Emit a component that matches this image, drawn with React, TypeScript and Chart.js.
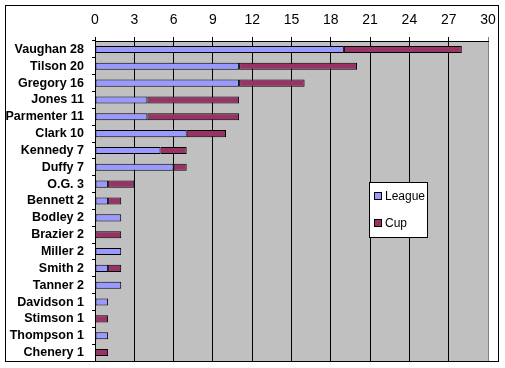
import React, { useEffect, useRef } from "react";
import { Chart, registerables } from "chart.js";

Chart.register(...registerables);

const categories = [
  "Vaughan 28", "Tilson 20", "Gregory 16", "Jones 11", "Parmenter 11", "Clark 10",
  "Kennedy 7", "Duffy 7", "O.G. 3", "Bennett 2", "Bodley 2", "Brazier 2", "Miller 2",
  "Smith 2", "Tanner 2", "Davidson 1", "Stimson 1", "Thompson 1", "Chenery 1",
];
const league = [19, 11, 11, 4, 4, 7, 5, 6, 1, 1, 2, 0, 2, 1, 2, 1, 0, 1, 0];
const cup = [9, 9, 5, 7, 7, 3, 2, 1, 2, 1, 0, 2, 0, 1, 0, 0, 1, 0, 1];
const xMin = 0;
const xMax = 30;
const xStep = 3;

const FONT = "'Liberation Sans', Arial, sans-serif";

const decorPlugin = {
  id: "decor",
  beforeDraw(chart: any) {
    const { ctx, chartArea } = chart;
    ctx.save();
    ctx.fillStyle = "#ffffff";
    ctx.fillRect(0, 0, chart.width, chart.height);
    ctx.fillStyle = "#C0C0C0";
    ctx.fillRect(chartArea.left, chartArea.top, chartArea.right - chartArea.left, chartArea.bottom - chartArea.top);
    ctx.restore();
  },
  afterDraw(chart: any) {
    const { ctx } = chart;
    ctx.save();
    ctx.strokeStyle = "#000";
    ctx.lineWidth = 1;
    ctx.strokeRect(5.5, 5.5, 493, 356);
    const bx = 369.5, by = 182.5, bw = 58, bh = 55;
    ctx.fillStyle = "#fff";
    ctx.fillRect(bx, by, bw, bh);
    ctx.strokeRect(bx, by, bw, bh);
    const ds = chart.data.datasets;
    const ys = [196, 223];
    ctx.font = `12px ${FONT}`;
    ctx.textBaseline = "middle";
    ctx.textAlign = "left";
    ds.forEach((d: any, i: number) => {
      const y = ys[i];
      ctx.fillStyle = d.backgroundColor;
      ctx.fillRect(374.5, y - 3.5, 7, 7);
      ctx.strokeRect(374.5, y - 3.5, 7, 7);
      ctx.fillStyle = "#000";
      ctx.fillText(d.label, 385, y + 0.5);
    });
    ctx.restore();
  },
};

export default function App() {
  const ref = useRef<HTMLCanvasElement>(null);
  useEffect(() => {
    if (!ref.current) return;
    const chart = new Chart(ref.current, {
      type: "bar",
      data: {
        labels: categories,
        datasets: [
          {
            label: "League",
            data: league,
            backgroundColor: "#9999FF",
            borderColor: "#000",
            borderWidth: 1,
            borderSkipped: false,
            categoryPercentage: 1,
            barPercentage: 0.42,
          },
          {
            label: "Cup",
            data: cup,
            backgroundColor: "#993366",
            borderColor: "#000",
            borderWidth: 1,
            borderSkipped: false,
            categoryPercentage: 1,
            barPercentage: 0.42,
          },
        ],
      },
      options: {
        indexAxis: "y",
        animation: false,
        responsive: false,
        maintainAspectRatio: false,
        layout: { padding: { left: 0, right: 17, top: 0, bottom: 7 } },
        plugins: { legend: { display: false }, tooltip: { enabled: false } },
        scales: {
          x: {
            position: "top",
            stacked: true,
            min: xMin,
            max: xMax,
            afterFit: (s: any) => { s.height = 41; s.paddingLeft = 0; s.paddingRight = 0; },
            ticks: {
              stepSize: xStep,
              color: "#000",
              padding: 8,
              font: { family: FONT, size: 14 },
            },
            grid: {
              color: (c: any) => (c.tick && c.tick.value === xMax ? "#808080" : "#000"),
              tickLength: 4,
              lineWidth: 1,
            },
            border: { display: true, color: "#000" },
          },
          y: {
            stacked: true,
            afterFit: (s: any) => { s.width = 95; s.paddingTop = 0; s.paddingBottom = 0; },
            ticks: {
              color: "#000",
              padding: 8,
              autoSkip: false,
              font: { family: FONT, size: 12.5, weight: "bold" },
            },
            grid: {
              offset: true,
              drawOnChartArea: false,
              drawTicks: true,
              tickLength: 3,
              color: "#000",
            },
            border: { display: true, color: "#000" },
          },
        },
      },
      plugins: [decorPlugin],
    } as any);
    return () => chart.destroy();
  }, []);
  return (
    <div style={{ position: "absolute", left: 0, top: 0, width: 505, height: 368 }}>
      <canvas ref={ref} width={505} height={368} style={{ width: 505, height: 368 }} />
    </div>
  );
}
